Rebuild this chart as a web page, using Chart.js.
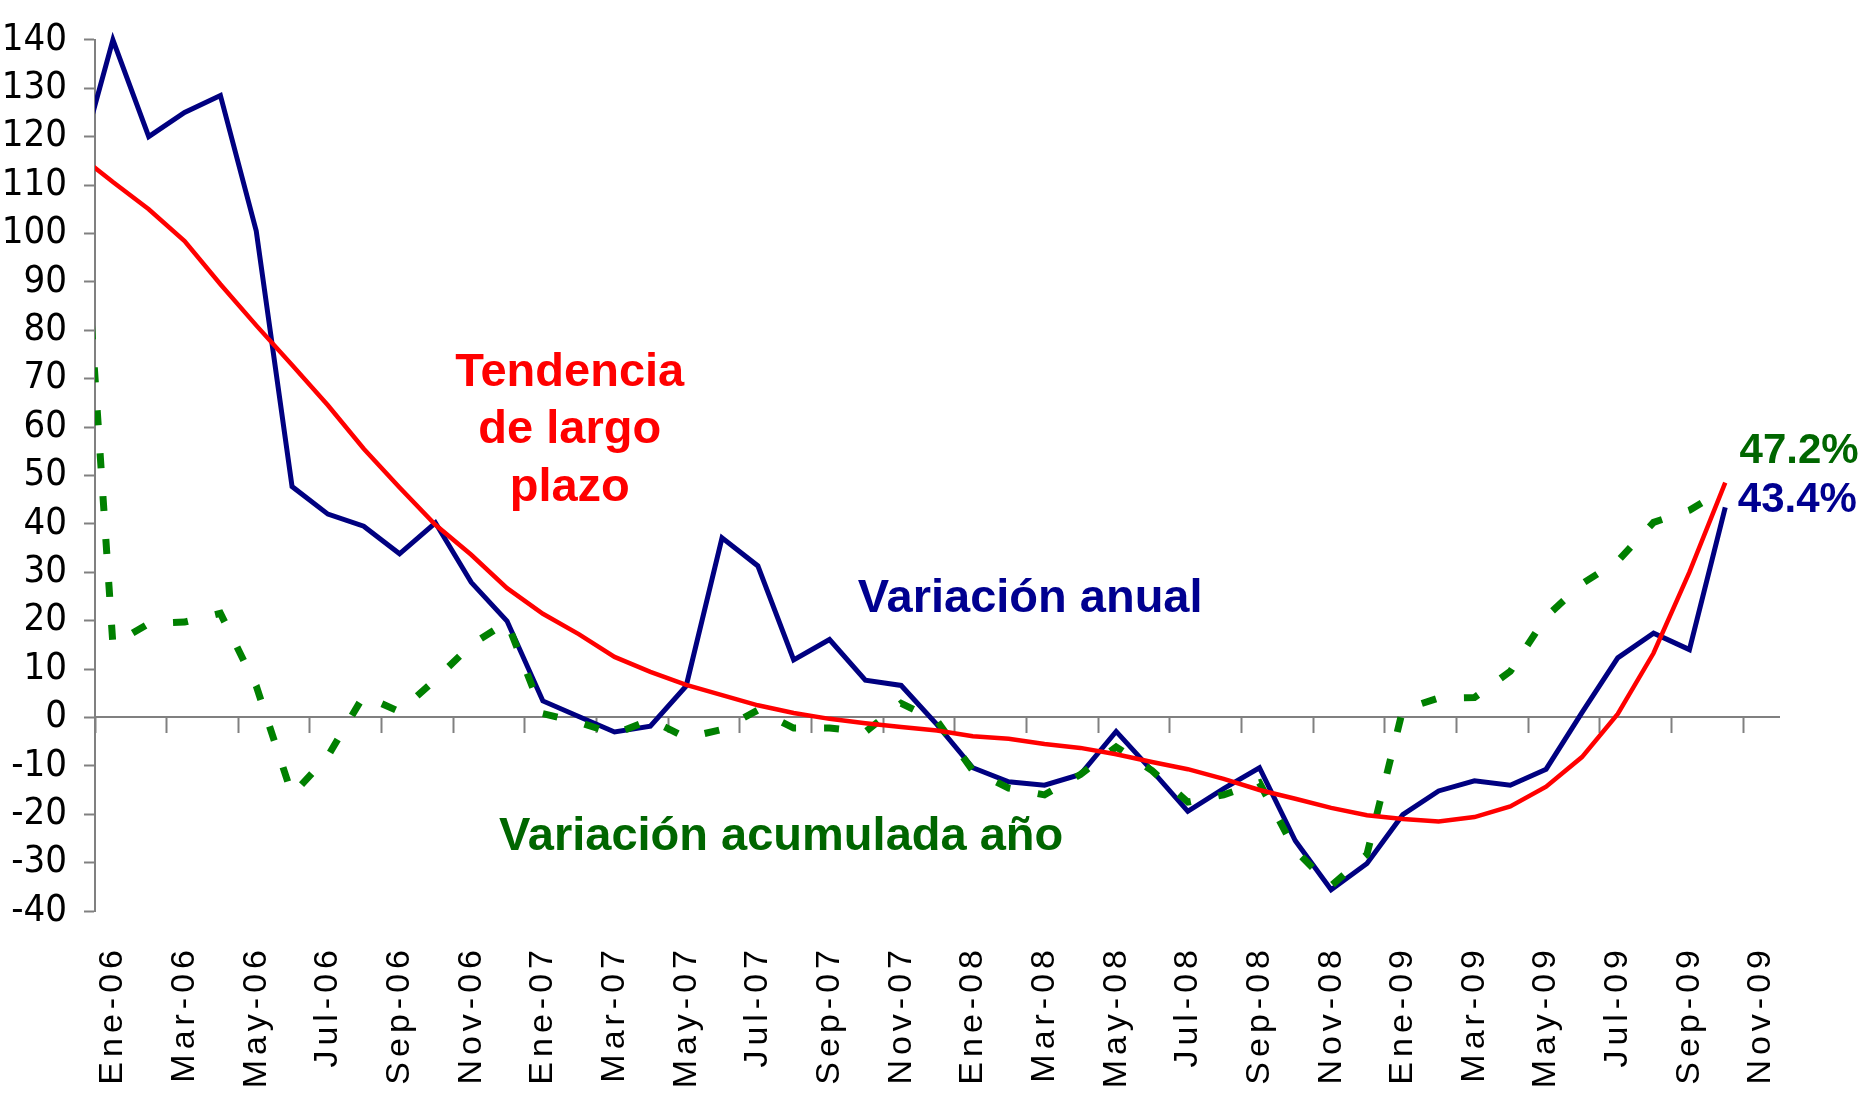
<!DOCTYPE html>
<html>
<head>
<meta charset="utf-8">
<title>Variación anual</title>
<script src="https://cdn.jsdelivr.net/npm/chart.js@4.4.0/dist/chart.umd.min.js"></script>
<style>
  html, body { margin: 0; padding: 0; background: #ffffff; }
  #wrap { width: 1867px; height: 1095px; position: relative; }
</style>
</head>
<body>
<div id="wrap"><canvas id="my-chart"></canvas></div>
<script>
'use strict';

// ******** DATA **************
// Dic-05 sits left of the axis, only so the lines start at the y axis like the original
let months = [
  'Dic-05',
  'Ene-06', 'Feb-06', 'Mar-06', 'Abr-06', 'May-06', 'Jun-06', 'Jul-06', 'Ago-06', 'Sep-06', 'Oct-06', 'Nov-06', 'Dic-06',
  'Ene-07', 'Feb-07', 'Mar-07', 'Abr-07', 'May-07', 'Jun-07', 'Jul-07', 'Ago-07', 'Sep-07', 'Oct-07', 'Nov-07', 'Dic-07',
  'Ene-08', 'Feb-08', 'Mar-08', 'Abr-08', 'May-08', 'Jun-08', 'Jul-08', 'Ago-08', 'Sep-08', 'Oct-08', 'Nov-08', 'Dic-08',
  'Ene-09', 'Feb-09', 'Mar-09', 'Abr-09', 'May-09', 'Jun-09', 'Jul-09', 'Ago-09', 'Sep-09', 'Oct-09', 'Nov-09'
];

let anualValues = [
  113,
  140, 120, 125, 128.5, 100.5, 47.7, 42, 39.5, 33.8, 40.2, 27.9, 19.9,
  3.4, 0.2, -3, -1.8, 6.5, 37.1, 31.3, 11.9, 16.1, 7.7, 6.6, -1.5,
  -10.4, -13.3, -14, -11.8, -2.9, -11, -19.4, -14.7, -10.4, -25.5, -35.6, -30.2,
  -20.1, -15.2, -13.1, -14, -10.7, 1, 12.3, 17.4, 14, 43.4, null
];

let acumuladaValues = [
  125.5,
  15, 19.4, 19.7, 21.5, 6.5, -16, -8, 4.5, 1.2, 7.8, 15, 19.7,
  0.8, -1, -3.4, -0.5, -4.2, -2.5, 1.5, -2.2, -2.2, -3, 2.9, -0.7,
  -11, -14.6, -16, -11.8, -6.1, -11, -17.5, -16, -13.5, -27.5, -34.8, -28.3,
  1.6, 4, 4.1, 9.5, 20.8, 27.6, 32.3, 40.3, 42.8, 47.2, null
];

let tendenciaValues = [
  116.5,
  110.6, 105, 98.4, 89.5, 81, 72.8, 64.5, 55.5, 47.5, 39.8, 33.6, 26.7,
  21.4, 17.2, 12.5, 9.4, 6.7, 4.6, 2.5, 0.9, -0.3, -1.2, -2, -2.7,
  -3.9, -4.4, -5.5, -6.3, -7.6, -9.2, -10.7, -12.7, -15, -16.8, -18.7, -20.2,
  -21, -21.5, -20.6, -18.4, -14.3, -8.2, 0.7, 13.3, 30, 48.5, null
];

let yRange = [-40, 140];
let yStep = 10;

// ******** TEXT NOTES ON THE PLOT (category position, value) **************
let notes = [
  { text: 'Tendencia', at: 13.75, value: 68.4, color: '#ff0000', size: 47, align: 'center' },
  { text: 'de largo', at: 13.75, value: 56.6, color: '#ff0000', size: 47, align: 'center' },
  { text: 'plazo', at: 13.75, value: 44.8, color: '#ff0000', size: 47, align: 'center' },
  { text: 'Variación anual', at: 26.6, value: 21.8, color: '#000090', size: 47, align: 'center' },
  { text: 'Variación acumulada año', at: 19.65, value: -27.4, color: '#006600', size: 47, align: 'center' },
  { text: acumuladaValues[46].toFixed(1) + '%', at: 46.4, value: 52.5, color: '#006600', size: 42, align: 'left' },
  { text: anualValues[46].toFixed(1) + '%', at: 46.35, value: 42.5, color: '#000090', size: 42, align: 'left' }
];

// ********* PLUGIN: spaced month labels + notes *************
let notesPlugin = {
  id: 'notes',
  afterDatasetsDraw(chart) {
    // month labels are drawn right after this (ticks z: 1), spread them out
    chart.ctx.letterSpacing = '5px';
  },
  afterDraw(chart) {
    let ctx = chart.ctx;
    ctx.letterSpacing = '0px';
    let xScale = chart.scales.x;
    let yScale = chart.scales.y;
    ctx.save();
    for (let i = 0; i < notes.length; i++) {
      let n = notes[i];
      ctx.font = 'bold ' + n.size + 'px "Liberation Sans", Arial, sans-serif';
      ctx.fillStyle = n.color;
      ctx.textAlign = n.align;
      ctx.textBaseline = 'alphabetic';
      ctx.fillText(n.text, xScale.getPixelForValue(n.at), yScale.getPixelForValue(n.value));
    }
    ctx.restore();
  }
};

// ********* CHART *************
let axisGray = '#808080';
let canvasElem = document.getElementById('my-chart');

let myObj = {
  type: 'line',
  data: {
    labels: months,
    datasets: [{
      label: 'Variación anual',
      data: anualValues,
      borderColor: '#000080',
      borderWidth: 5,
      pointRadius: 0,
      order: 3,
      clip: { left: 0, top: false, right: false, bottom: false }
    },
    {
      label: 'Variación acumulada año',
      data: acumuladaValues,
      borderColor: '#008000',
      borderWidth: 7,
      borderDash: [15, 28],
      pointRadius: 0,
      order: 2,
      clip: { left: 0, top: false, right: false, bottom: false }
    },
    {
      label: 'Tendencia de largo plazo',
      data: tendenciaValues,
      borderColor: '#ff0000',
      borderWidth: 4.5,
      pointRadius: 0,
      order: 1,
      clip: { left: 0, top: false, right: false, bottom: false }
    }]
  },
  options: {
    responsive: true,
    maintainAspectRatio: false,
    animation: false,
    events: [],
    layout: {
      padding: { left: 0, top: 29, right: 88, bottom: 0 }
    },
    plugins: {
      legend: { display: false },
      tooltip: { enabled: false }
    },
    scales: {
      x: {
        type: 'category',
        min: 'Ene-06',
        offset: true,
        position: 'bottom',
        grid: { display: false, drawTicks: false },
        border: { display: false },
        ticks: {
          autoSkip: false,
          minRotation: 90,
          maxRotation: 90,
          padding: 34,
          z: 1,
          color: '#000000',
          font: { family: '"Liberation Sans", Arial, sans-serif', size: 34 },
          callback: function (value, index) {
            return index % 2 === 0 ? this.getLabelForValue(value) : '';
          }
        },
        afterFit(scale) {
          scale.height = 184;
        }
      },
      x0: {
        type: 'category',
        axis: 'x',
        position: { y: 0 },
        min: 'Ene-06',
        offset: true,
        grid: {
          offset: true,
          drawOnChartArea: false,
          drawTicks: true,
          tickLength: 15,
          tickWidth: 2,
          tickColor: (ctx) => (ctx.index % 2 === 0 ? axisGray : 'rgba(0,0,0,0)')
        },
        border: { display: true, color: axisGray, width: 2 },
        ticks: { display: false, autoSkip: false }
      },
      y: {
        min: yRange[0],
        max: yRange[1],
        position: 'left',
        grid: {
          drawOnChartArea: false,
          tickLength: 11,
          tickWidth: 2,
          color: axisGray
        },
        border: { display: true, color: axisGray, width: 2 },
        ticks: {
          stepSize: yStep,
          autoSkip: false,
          padding: 17,
          color: '#000000',
          font: { family: '"Liberation Sans Narrow", "Arial Narrow", "DejaVu Sans Condensed", sans-serif', size: 38 }
        },
        afterFit(scale) {
          scale.width = 95;
        }
      }
    }
  },
  plugins: [notesPlugin]
};

new Chart(canvasElem, myObj);
</script>
</body>
</html>
